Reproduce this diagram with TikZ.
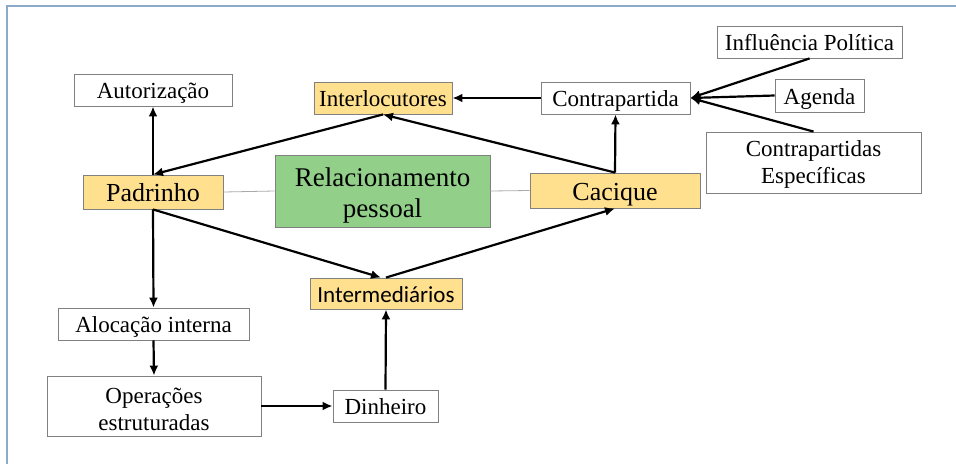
\documentclass[tikz,border=0pt]{standalone}
\usepackage{fontspec}
\setmainfont{Liberation Serif}
\newfontfamily\calib{Carlito}
\usetikzlibrary{arrows.meta}
\definecolor{frameblue}{RGB}{140,170,200}
\definecolor{boxgold}{RGB}{255,224,143}
\definecolor{boxgreen}{RGB}{146,208,138}
\definecolor{edgegray}{RGB}{128,128,128}
\definecolor{thingray}{RGB}{170,170,170}
\tikzset{
  box/.style={draw=edgegray, line width=0.9pt, fill=white, inner sep=0pt, align=center,
     font=\fontsize{23}{27}\selectfont},
  one/.style={text height=17pt, text depth=0pt},
  onebig/.style={text height=19pt, text depth=0pt},
  gold/.style={box, fill=boxgold},
  arr/.style={line width=2.2pt, -{Latex[length=10pt,width=9pt]}},
  thin/.style={draw=thingray, line width=0.8pt}
}
\begin{document}
\begin{tikzpicture}[x=1pt,y=-1pt]
\useasboundingbox (0,0) rectangle (956,464);
\draw[frameblue, line width=1.6pt] (7,464) -- (7,6) -- (956,6);
% nodes
\node[box, one, minimum width=158pt, minimum height=32pt] (aut) at (153,90) {Autorização};
\node[gold, one, minimum width=138pt, minimum height=32pt] (int) at (383,98) {Interlocutores};
\node[box, one, minimum width=149pt, minimum height=32pt] (con) at (615.5,98) {Contrapartida};
\node[box, one, minimum width=185pt, minimum height=32pt] (inf) at (809.5,42) {Influência Política};
\node[box, one, minimum width=89pt, minimum height=33pt] (age) at (819.5,95.5) {Agenda};
\node[box, minimum width=215pt, minimum height=61pt] (esp) at (813.5,162.5) {\rule{0pt}{20pt}Contrapartidas\\Específicas};
\node[gold, onebig, minimum width=140pt, minimum height=34pt, font=\fontsize{26}{30}\selectfont] (pad) at (153,192) {Padrinho};
\node[box, fill=boxgreen, minimum width=215pt, minimum height=72pt, font=\fontsize{27}{31}\selectfont] (rel) at (382.5,191) {\rule{0pt}{27pt}Relacionamento\\pessoal};
\node[gold, onebig, minimum width=170pt, minimum height=35pt, font=\fontsize{26}{30}\selectfont] (cac) at (615,190.5) {Cacique};
\node[gold, one, minimum width=152pt, minimum height=31pt, font=\calib\fontsize{23}{27}\selectfont] (itm) at (386,293.5) {Intermediários};
\node[box, one, minimum width=191pt, minimum height=32pt] (alo) at (153.5,324) {Alocação interna};
\node[box, minimum width=214pt, minimum height=60pt] (ope) at (154,406) {\rule{0pt}{22pt}Operações\\estruturadas};
\node[box, one, minimum width=105pt, minimum height=32pt] (din) at (385.5,406) {Dinheiro};
% thin gray links
\draw[thin] (pad.east) -- (rel.west);
\draw[thin] (rel.east) -- (cac.west);
% arrows
\draw[arr] (pad.north) -- (aut.south);
\draw[arr] (int.south) -- (pad.north);
\draw[arr] (cac.north) -- (int.south);
\draw[arr] (cac.north) -- (con.south);
\draw[arr] (con.west) -- (int.east);
\draw[arr] (inf.south) -- (con.east);
\draw[arr] (age.west) -- (con.east);
\draw[arr] (esp.north) -- (con.east);
\draw[arr] (pad.south) -- ([xshift=-5pt]itm.north);
\draw[arr] (itm.north) -- (cac.south);
\draw[arr] (pad.south) -- (alo.north);
\draw[arr] (alo.south) -- (ope.north);
\draw[arr] (ope.east) -- (din.west);
\draw[arr] (din.north) -- (itm.south);
\end{tikzpicture}
\end{document}
